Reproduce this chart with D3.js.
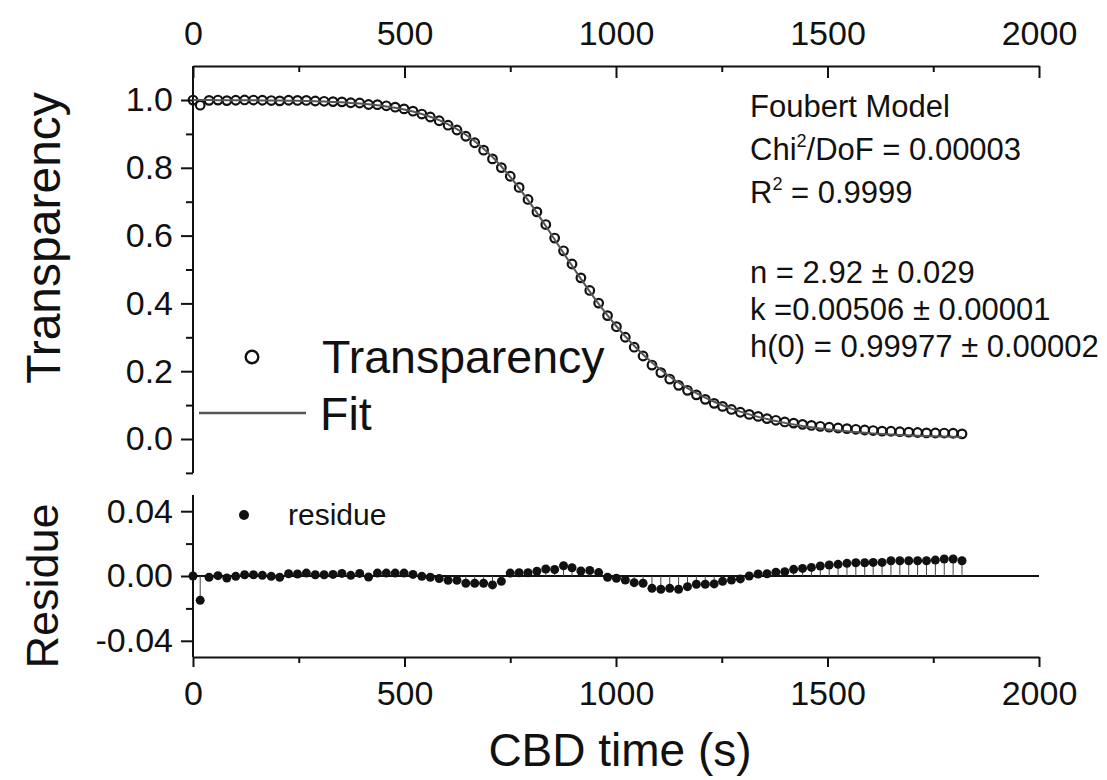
<!DOCTYPE html>
<html><head><meta charset="utf-8">
<script src="https://cdn.jsdelivr.net/npm/d3@7"></script>
<style>
body{margin:0;background:#fff}
text{font-family:"Liberation Sans",Arial,sans-serif;fill:#111}
</style>
</head><body>
<svg id="c" width="1107" height="780"></svg>
<script>
// ---- data ----
const times = [0,17,38,59,80,101,122,143,164,185,205,226,247,268,289,310,331,352,373,394,415,436,457,478,499,520,541,561,582,603,624,645,666,687,708,729,750,771,792,813,834,855,876,896,917,938,959,980,1001,1022,1043,1064,1085,1106,1127,1148,1169,1190,1211,1232,1252,1273,1294,1315,1336,1357,1378,1399,1420,1441,1462,1483,1504,1525,1546,1567,1588,1608,1629,1650,1671,1692,1713,1734,1755,1776,1797,1818];
const transparency = [0.9998,0.9847,0.9989,0.9998,0.9983,0.9992,1.0001,0.9999,0.9993,0.9984,
0.9975,0.9993,0.9987,0.9987,0.9970,0.9962,0.9953,0.9946,0.9919,0.9912,
0.9867,0.9863,0.9829,0.9788,0.9738,0.9670,0.9586,0.9498,0.9388,0.9256,
0.9115,0.8931,0.8739,0.8520,0.8262,0.8006,0.7751,0.7421,0.7066,0.6700,
0.6326,0.5927,0.5551,0.5162,0.4754,0.4382,0.4009,0.3640,0.3313,0.3002,
0.2708,0.2448,0.2181,0.1959,0.1768,0.1583,0.1436,0.1303,0.1169,0.1051,
0.0962,0.0871,0.0789,0.0726,0.0666,0.0602,0.0552,0.0503,0.0469,0.0432,
0.0400,0.0374,0.0348,0.0324,0.0305,0.0286,0.0266,0.0250,0.0233,0.0228,
0.0215,0.0203,0.0192,0.0182,0.0177,0.0176,0.0169,0.0152];
const fit = [0.99977,0.99973,0.99967,0.99959,0.99950,0.99939,0.99925,0.99908,0.99887,0.99861,
0.99832,0.99794,0.99747,0.99691,0.99621,0.99536,0.99431,0.99303,0.99148,0.98963,
0.98733,0.98453,0.98113,0.97702,0.97203,0.96603,0.95880,0.95063,0.94041,0.92834,
0.91415,0.89762,0.87842,0.85646,0.83166,0.80391,0.77332,0.74013,0.70455,0.66712,
0.62829,0.58866,0.54876,0.51106,0.47227,0.43478,0.39883,0.36475,0.33265,0.30272,
0.27494,0.24929,0.22572,0.20412,0.18442,0.16649,0.15020,0.13543,0.12204,0.10995,
0.09953,0.08962,0.08068,0.07262,0.06535,0.05880,0.05291,0.04761,0.04283,0.03853,
0.03466,0.03118,0.02804,0.02522,0.02268,0.02040,0.01835,0.01659,0.01492,0.01342,
0.01207,0.01086,0.00977,0.00879,0.00790,0.00711,0.00639,0.00575];
const residue = [0,-0.015,-0.0008,0.0002,-0.0012,-0.0002,0.0008,0.0008,0.0004,-0.0002,
-0.0008,0.0014,0.0012,0.0018,0.0008,0.0008,0.001,0.0016,0.0004,0.0016,
-0.0006,0.0018,0.0018,0.0018,0.0018,0.001,-0.0002,-0.0008,-0.0016,-0.0027,
-0.0027,-0.0045,-0.0045,-0.0045,-0.0055,-0.0033,0.0018,0.002,0.002,0.0029,
0.0043,0.004,0.0063,0.0051,0.0031,0.0034,0.0021,-0.0008,-0.0014,-0.0025,
-0.0041,-0.0045,-0.0076,-0.0082,-0.0076,-0.0082,-0.0066,-0.0051,-0.0051,-0.0049,
-0.0033,-0.0025,-0.0018,0,0.0012,0.0014,0.0023,0.0027,0.0041,0.0047,
0.0053,0.0062,0.0068,0.0072,0.0078,0.0082,0.0082,0.0084,0.0084,0.0094,
0.0094,0.0094,0.0094,0.0094,0.0098,0.0105,0.0105,0.0094];

const xMajorTicks = [0,500,1000,1500,2000];
const xMinorTicks = [250,750,1250,1750];
const yTopMajor = [0,0.2,0.4,0.6,0.8,1.0];
const yTopMinor = [-0.1,0.1,0.3,0.5,0.7,0.9];
const yResMajor = [-0.04,0,0.04];
const yResMinor = [-0.02,0.02];
const annotation = ["Foubert Model","Chi|2|/DoF = 0.00003","R|2| = 0.9999","n = 2.92 ± 0.029","k =0.00506 ± 0.00001","h(0) = 0.99977 ± 0.00002"];

// ---- drawing ----
const svg = d3.select("#c");
const x = d3.scaleLinear().domain([0,2000]).range([193,1039]);
const yT = d3.scaleLinear().domain([-0.1,1.1]).range([472.9,66.1]);
const yR = d3.scaleLinear().domain([-0.05,0.05]).range([657,495]);
const ink = "#111";

function styleAxis(g, fs){
  g.select(".domain").attr("stroke",ink).attr("stroke-width",2);
  g.selectAll(".tick line").attr("stroke",ink).attr("stroke-width",2);
  g.selectAll(".tick text").style("font-size",fs+"px").attr("fill",ink);
}

// top axis
let g = svg.append("g").attr("transform","translate(0,66)")
  .call(d3.axisTop(x).tickValues(xMajorTicks).tickSizeInner(-12).tickSizeOuter(0).tickPadding(21).tickFormat(d3.format("d")));
styleAxis(g,34);
g = svg.append("g").attr("transform","translate(0,66)")
  .call(d3.axisTop(x).tickValues(xMinorTicks).tickSizeInner(-6).tickSizeOuter(0).tickFormat(""));
styleAxis(g,34); g.select(".domain").remove();

// left axis top panel
g = svg.append("g").attr("transform","translate(193,0)")
  .call(d3.axisLeft(yT).tickValues(yTopMajor).tickSize(12).tickPadding(8).tickFormat(d=>d.toFixed(1)));
styleAxis(g,34); g.select(".domain").attr("d",`M0,${yT(1.1)}V${yT(-0.1)}`);
g = svg.append("g").attr("transform","translate(193,0)")
  .call(d3.axisLeft(yT).tickValues(yTopMinor).tickSize(7).tickFormat(""));
styleAxis(g,34); g.select(".domain").remove();

// residue left axis
g = svg.append("g").attr("transform","translate(193,0)")
  .call(d3.axisLeft(yR).tickValues(yResMajor).tickSize(12).tickPadding(8).tickFormat(d=>d.toFixed(2)));
styleAxis(g,34); g.select(".domain").attr("d",`M0,${yR(0.05)}V${yR(-0.05)}`);
g = svg.append("g").attr("transform","translate(193,0)")
  .call(d3.axisLeft(yR).tickValues(yResMinor).tickSize(7).tickFormat(""));
styleAxis(g,34); g.select(".domain").remove();

// bottom axis
g = svg.append("g").attr("transform","translate(0,657)")
  .call(d3.axisBottom(x).tickValues(xMajorTicks).tickSizeInner(10).tickSizeOuter(0).tickPadding(14).tickFormat(d3.format("d")));
styleAxis(g,34);
g = svg.append("g").attr("transform","translate(0,657)")
  .call(d3.axisBottom(x).tickValues(xMinorTicks).tickSizeInner(6).tickSizeOuter(0).tickFormat(""));
styleAxis(g,34); g.select(".domain").remove();

// fit line + points
const pts = times.map((t,i)=>({t, v:transparency[i], f:fit[i], r:residue[i]}));
svg.append("g").selectAll("circle").data(pts).join("circle")
  .attr("cx",d=>x(d.t)).attr("cy",d=>yT(d.v)).attr("r",4.3)
  .attr("fill","none").attr("stroke",ink).attr("stroke-width",2.2);
svg.append("path").datum(pts)
  .attr("d",d3.line().x(d=>x(d.t)).y(d=>yT(d.f)).curve(d3.curveMonotoneX))
  .attr("fill","none").attr("stroke","#555").attr("stroke-width",2);

// residue panel
svg.append("line").attr("x1",x(0)).attr("x2",x(2000)).attr("y1",yR(0)).attr("y2",yR(0))
  .attr("stroke",ink).attr("stroke-width",1.8);
svg.append("g").selectAll("line").data(pts).join("line")
  .attr("x1",d=>x(d.t)).attr("x2",d=>x(d.t)).attr("y1",yR(0)).attr("y2",d=>yR(d.r))
  .attr("stroke","#444").attr("stroke-width",1);
svg.append("g").selectAll("circle").data(pts).join("circle")
  .attr("cx",d=>x(d.t)).attr("cy",d=>yR(d.r)).attr("r",4.5).attr("fill",ink);

// legend top
svg.append("circle").attr("cx",252).attr("cy",357).attr("r",6.3).attr("fill","none").attr("stroke",ink).attr("stroke-width",2.4);
svg.append("text").attr("x",322).attr("y",373).style("font-size","46.5px").text("Transparency");
svg.append("line").attr("x1",199).attr("x2",306).attr("y1",413).attr("y2",413).attr("stroke","#555").attr("stroke-width",2.5);
svg.append("text").attr("x",320).attr("y",430).style("font-size","46.5px").text("Fit");

// residue legend
svg.append("circle").attr("cx",244).attr("cy",515).attr("r",5).attr("fill",ink);
svg.append("text").attr("x",288).attr("y",525).style("font-size","30px").text("residue");

// annotation
const annY = [117,160,203,283,320,357];
annotation.forEach((s,i)=>{
  const t = svg.append("text").attr("x",750).attr("y",annY[i]).style("font-size","31px");
  const parts = s.split("|");
  if(parts.length===1){ t.text(s); }
  else {
    t.append("tspan").text(parts[0]);
    t.append("tspan").attr("dy",-13).style("font-size","18px").text(parts[1]);
    t.append("tspan").attr("dy",13).text(parts[2]);
  }
});

// axis titles
svg.append("text").attr("transform","translate(60,238) rotate(-90)").attr("text-anchor","middle").style("font-size","48px").text("Transparency");
svg.append("text").attr("transform","translate(58,586) rotate(-90)").attr("text-anchor","middle").style("font-size","45px").text("Residue");
svg.append("text").attr("x",620).attr("y",766).attr("text-anchor","middle").style("font-size","46px").text("CBD time (s)");
</script>
</body></html>
